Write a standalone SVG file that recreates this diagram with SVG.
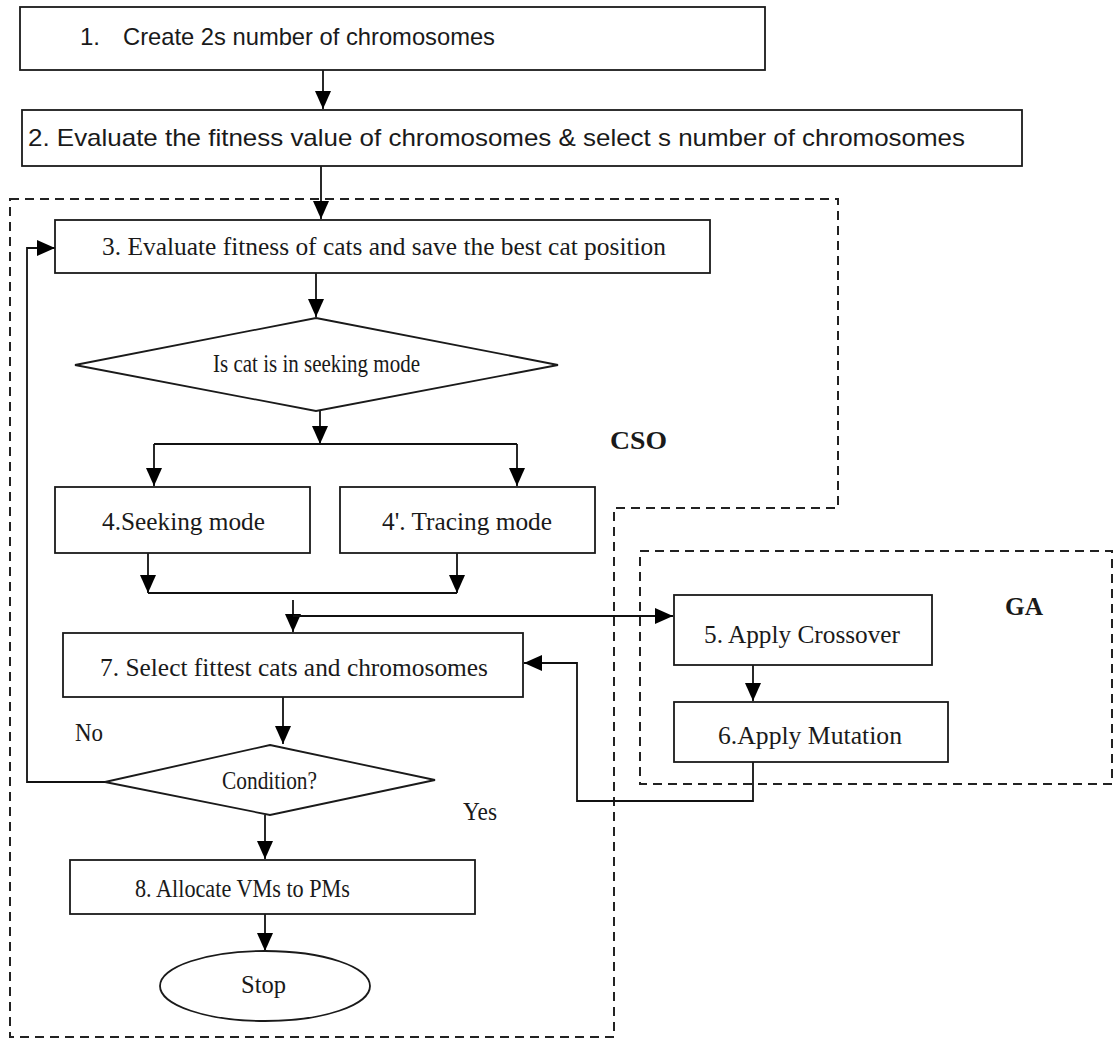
<svg xmlns="http://www.w3.org/2000/svg" width="1115" height="1041" viewBox="0 0 1115 1041">
  <style>
    .box { fill: #ffffff; stroke: #1a1a1a; stroke-width: 1.8; }
    .wire { fill: none; stroke: #111111; stroke-width: 1.8; }
    .zone { fill: none; stroke: #222222; stroke-width: 2; stroke-dasharray: 9 6; }
    .sans { font-family: "Liberation Sans", Arial, sans-serif; font-size: 24px; fill: #1a1a1a; }
    .serif { font-family: "Liberation Serif", "Times New Roman", serif; font-size: 26px; fill: #1a1a1a; }
    .bold { font-family: "Liberation Serif", "Times New Roman", serif; font-size: 25px; font-weight: bold; fill: #1a1a1a; }
  </style>
  <defs>
    <marker id="arrow" markerUnits="userSpaceOnUse" markerWidth="19" markerHeight="16" refX="18" refY="8" orient="auto">
      <path d="M0,0 L18,8 L0,16 Z" fill="#000000"/>
    </marker>
  </defs>

  <rect width="1115" height="1041" fill="#ffffff"/>

  <!-- algorithm regions -->
  <g id="cso-region">
    <path class="zone" d="M10,199 H838 V508 H614 V1037 H10 Z"/>
    <text class="bold" x="610" y="449" textLength="57" lengthAdjust="spacingAndGlyphs">CSO</text>
  </g>
  <g id="ga-region">
    <path class="zone" d="M640,551 H1112 V784 H640 Z"/>
    <text class="bold" x="1005" y="615" textLength="38" lengthAdjust="spacingAndGlyphs">GA</text>
  </g>

  <!-- connectors -->
  <g id="connectors">
    <line class="wire" x1="323" y1="70" x2="323" y2="109" marker-end="url(#arrow)"/>
    <line class="wire" x1="321" y1="166" x2="321" y2="219" marker-end="url(#arrow)"/>
    <line class="wire" x1="316" y1="273" x2="316" y2="317" marker-end="url(#arrow)"/>
    <line class="wire" x1="320" y1="411" x2="320" y2="444" marker-end="url(#arrow)"/>
    <path class="wire" d="M154,444 H517"/>
    <line class="wire" x1="154" y1="444" x2="154" y2="486" marker-end="url(#arrow)"/>
    <line class="wire" x1="517" y1="444" x2="517" y2="486" marker-end="url(#arrow)"/>
    <line class="wire" x1="148" y1="553" x2="148" y2="593" marker-end="url(#arrow)"/>
    <line class="wire" x1="457" y1="553" x2="457" y2="593" marker-end="url(#arrow)"/>
    <path class="wire" d="M148,593 H457"/>
    <line class="wire" x1="293" y1="600" x2="293" y2="632" marker-end="url(#arrow)"/>
    <line class="wire" x1="293" y1="616" x2="673" y2="616" marker-end="url(#arrow)"/>
    <line class="wire" x1="753" y1="665" x2="753" y2="701" marker-end="url(#arrow)"/>
    <path class="wire" d="M753,762 V801 H577 V663 H524" marker-end="url(#arrow)"/>
    <line class="wire" x1="283" y1="697" x2="283" y2="744" marker-end="url(#arrow)"/>
    <path class="wire" d="M108,782 H27 V248 H55" marker-end="url(#arrow)"/>
    <line class="wire" x1="265" y1="815" x2="265" y2="859" marker-end="url(#arrow)"/>
    <line class="wire" x1="265" y1="914" x2="265" y2="951" marker-end="url(#arrow)"/>
    <text class="serif" x="75" y="741" font-size="22" textLength="28" lengthAdjust="spacingAndGlyphs">No</text>
    <text class="serif" x="463" y="820" font-size="22" textLength="34" lengthAdjust="spacingAndGlyphs">Yes</text>
  </g>

  <!-- steps -->
  <g id="step1">
    <rect class="box" x="20" y="7" width="745" height="63"/>
    <text class="sans" x="80" y="45">1.</text>
    <text class="sans" x="123" y="45" textLength="372" lengthAdjust="spacingAndGlyphs">Create 2s number of chromosomes</text>
  </g>
  <g id="step2">
    <rect class="box" x="22" y="110" width="1000" height="56"/>
    <text class="sans" x="28" y="146" textLength="937" lengthAdjust="spacingAndGlyphs">2. Evaluate the fitness value of chromosomes &amp; select s number of chromosomes</text>
  </g>
  <g id="step3">
    <rect class="box" x="55" y="220" width="655" height="53"/>
    <text class="serif" x="102" y="255" textLength="564" lengthAdjust="spacingAndGlyphs">3. Evaluate fitness of cats and save the best cat position</text>
  </g>
  <g id="seeking-check">
    <polygon class="box" points="316,318 558,365 316,411 75,365"/>
    <text class="serif" x="213" y="372" font-size="20" textLength="207" lengthAdjust="spacingAndGlyphs">Is cat is in seeking mode</text>
  </g>
  <g id="step4">
    <rect class="box" x="55" y="487" width="255" height="66"/>
    <text class="serif" x="102" y="530" textLength="163" lengthAdjust="spacingAndGlyphs">4.Seeking mode</text>
  </g>
  <g id="step4b">
    <rect class="box" x="340" y="487" width="255" height="66"/>
    <text class="serif" x="382" y="530" textLength="170" lengthAdjust="spacingAndGlyphs">4'. Tracing mode</text>
  </g>
  <g id="step5">
    <rect class="box" x="674" y="595" width="258" height="70"/>
    <text class="serif" x="704" y="643" textLength="196" lengthAdjust="spacingAndGlyphs">5. Apply Crossover</text>
  </g>
  <g id="step6">
    <rect class="box" x="674" y="702" width="274" height="60"/>
    <text class="serif" x="718" y="744" textLength="184" lengthAdjust="spacingAndGlyphs">6.Apply Mutation</text>
  </g>
  <g id="step7">
    <rect class="box" x="63" y="633" width="460" height="64"/>
    <text class="serif" x="100" y="676" textLength="388" lengthAdjust="spacingAndGlyphs">7. Select fittest cats and chromosomes</text>
  </g>
  <g id="condition">
    <polygon class="box" points="270,745 435,780 270,815 105,782"/>
    <text class="serif" x="222" y="789" font-size="23" textLength="95" lengthAdjust="spacingAndGlyphs">Condition?</text>
  </g>
  <g id="step8">
    <rect class="box" x="70" y="860" width="405" height="54"/>
    <text class="serif" x="135" y="897" textLength="215" lengthAdjust="spacingAndGlyphs">8. Allocate VMs to PMs</text>
  </g>
  <g id="stop">
    <ellipse class="box" cx="265" cy="986" rx="105" ry="35"/>
    <text class="serif" x="241" y="993" font-size="25" textLength="45" lengthAdjust="spacingAndGlyphs">Stop</text>
  </g>
</svg>
